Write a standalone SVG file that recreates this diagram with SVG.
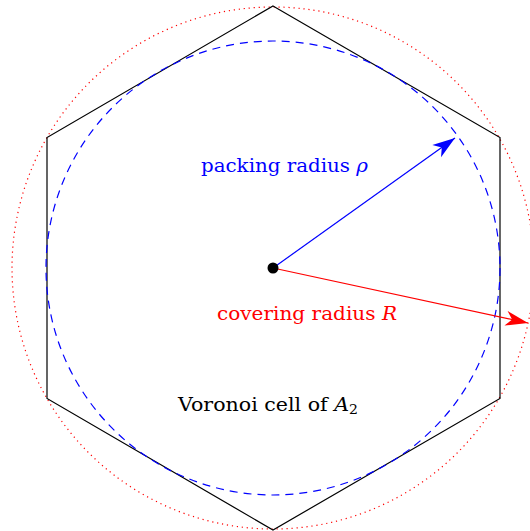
<svg xmlns="http://www.w3.org/2000/svg" width="530" height="531" viewBox="0 0 530 531">
<defs>
<marker id="ab" markerUnits="userSpaceOnUse" markerWidth="30" markerHeight="30" viewBox="-20 -10 24 20" refX="0" refY="0" orient="auto"><path d="M0,0 L-18,-6 L-13,0 L-18,6 Z" fill="#0000ff"/></marker>
<marker id="ar" markerUnits="userSpaceOnUse" markerWidth="30" markerHeight="30" viewBox="-20 -10 24 20" refX="0" refY="0" orient="auto"><path d="M0,0 L-18,-6 L-13,0 L-18,6 Z" fill="#ff0000"/></marker>
</defs>
<g id="covering-circle"><circle cx="273" cy="268" r="261" fill="none" stroke="#ff0000" stroke-width="1.2" stroke-dasharray="1.2 3.8"/></g>
<g id="hexagon"><polygon points="273,6 500,137.5 500,398.5 273,530 47,398.5 47,137.5" fill="none" stroke="#000" stroke-width="1.2"/></g>
<g id="packing-circle"><circle cx="273" cy="268" r="227" fill="none" stroke="#0000ff" stroke-width="1.2" stroke-dasharray="8 6"/></g>
<g id="connectors">
<line x1="273" y1="268" x2="455" y2="138" stroke="#0000ff" stroke-width="1.2" marker-end="url(#ab)"/>
<line x1="273" y1="268" x2="528" y2="323" stroke="#ff0000" stroke-width="1.2" marker-end="url(#ar)"/>
</g>
<g id="center"><circle cx="273" cy="268" r="5.5" fill="#000"/></g>
<g id="labels" font-family="'DejaVu Serif', serif" font-size="19">
<text x="201" y="172" fill="#0000ff" textLength="167" lengthAdjust="spacingAndGlyphs">packing radius <tspan font-style="italic">ρ</tspan></text>
<text x="217" y="320" fill="#ff0000" textLength="180" lengthAdjust="spacingAndGlyphs">covering radius <tspan font-style="italic">R</tspan></text>
<text x="178" y="411" fill="#000" textLength="180" lengthAdjust="spacingAndGlyphs">Voronoi cell of <tspan font-style="italic">A</tspan><tspan font-size="13" dy="3">2</tspan></text>
</g>
</svg>
